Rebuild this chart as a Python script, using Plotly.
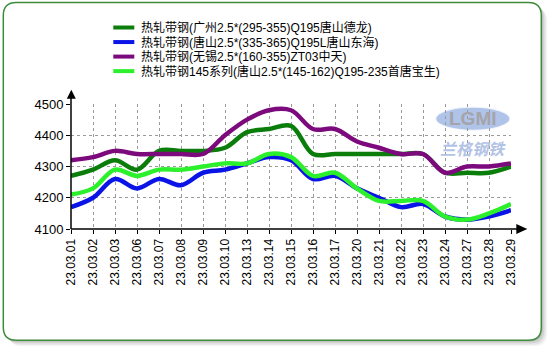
import plotly.graph_objects as go

# Trade dates (category axis)
dates = ["23.03.01", "23.03.02", "23.03.03", "23.03.06", "23.03.07", "23.03.08",
         "23.03.09", "23.03.10", "23.03.13", "23.03.14", "23.03.15", "23.03.16",
         "23.03.17", "23.03.20", "23.03.21", "23.03.22", "23.03.23", "23.03.24",
         "23.03.27", "23.03.28", "23.03.29"]

# Hot-rolled strip prices (yuan/ton)
guangzhou = [4270, 4290, 4320, 4290, 4350, 4350, 4350, 4360, 4410, 4420, 4430,
             4340, 4340, 4340, 4340, 4340, 4340, 4280, 4280, 4280, 4300]
tangshan_donghai = [4170, 4200, 4260, 4230, 4260, 4240, 4280, 4290, 4310, 4330, 4320,
                    4260, 4270, 4230, 4200, 4170, 4180, 4140, 4130, 4140, 4160]
wuxi = [4320, 4330, 4350, 4340, 4340, 4340, 4340, 4400, 4450, 4480, 4480,
        4420, 4420, 4380, 4360, 4340, 4340, 4280, 4300, 4300, 4310]
tangshan_145 = [4210, 4230, 4290, 4270, 4290, 4290, 4300, 4310, 4310, 4340, 4330,
                4270, 4280, 4230, 4190, 4190, 4190, 4140, 4130, 4150, 4180]

names = ["热轧带钢(广州2.5*(295-355)Q195唐山德龙)",
         "热轧带钢(唐山2.5*(335-365)Q195L唐山东海)",
         "热轧带钢(无锡2.5*(160-355)ZT03中天)",
         "热轧带钢145系列(唐山2.5*(145-162)Q195-235首唐宝生)"]
colors = ["#0b7d0b", "#0a14e6", "#7d0a7d", "#2cf02c"]
series = [guangzhou, tangshan_donghai, wuxi, tangshan_145]

W, H = 550, 350
L, R, T, B = 70.7, 510.7, 104.3, 229.0   # plot area in pixels

def px(x):
    return (x - L) / (R - L)

def py(y):
    return (B - y) / (B - T)

fig = go.Figure()
for name, vals, col in zip(names, series, colors):
    fig.add_trace(go.Scatter(
        x=list(range(len(dates))), y=vals, name=name, mode="lines",
        line=dict(color=col, width=4.5, shape="spline", smoothing=1.0),
    ))

shapes = []
annotations = []

# rounded frame with soft shadow
def rrect(x0, y0, x1, y1, r):
    return (f"M{px(x0+r)},{py(y0)} L{px(x1-r)},{py(y0)} Q{px(x1)},{py(y0)} {px(x1)},{py(y0+r)} "
            f"L{px(x1)},{py(y1-r)} Q{px(x1)},{py(y1)} {px(x1-r)},{py(y1)} "
            f"L{px(x0+r)},{py(y1)} Q{px(x0)},{py(y1)} {px(x0)},{py(y1-r)} "
            f"L{px(x0)},{py(y0+r)} Q{px(x0)},{py(y0)} {px(x0+r)},{py(y0)} Z")

for off, op in [(6, 0.06), (4.5, 0.09), (3, 0.12), (1.5, 0.15)]:
    shapes.append(dict(type="path", xref="paper", yref="paper", layer="below",
                       path=rrect(3 + off, 3 + off, 541 + off, 340 + off, 13),
                       fillcolor=f"rgba(80,80,80,{op})", line=dict(width=0)))
shapes.append(dict(type="path", xref="paper", yref="paper", layer="below",
                   path=rrect(3, 3, 541, 340, 13), fillcolor="white",
                   line=dict(color="#3c8c3c", width=1.5)))

# watermark: ellipse badge with lettering
shapes.append(dict(type="circle", xref="paper", yref="paper", layer="below",
                   x0=px(435), x1=px(510), y0=py(107), y1=py(131),
                   fillcolor="rgba(150,175,225,0.75)",
                   line=dict(color="rgba(255,255,255,0.8)", width=2)))
annotations.append(dict(x=px(472.5), y=py(119), xref="paper", yref="paper",
                        xanchor="center", yanchor="middle", text="<b>LGMI</b>",
                        showarrow=False,
                        font=dict(family="Liberation Sans", size=19, color="#a4a4aa")))
annotations.append(dict(x=px(473), y=py(148), xref="paper", yref="paper",
                        xanchor="center", yanchor="middle", text="<b><i>兰格钢铁</i></b>",
                        showarrow=False,
                        font=dict(family="Noto Sans CJK SC", size=16, color="#b3c3e6")))

# axis arrows
shapes.append(dict(type="line", xref="paper", yref="paper", x0=0, x1=0, y0=0, y1=py(93),
                   line=dict(color="black", width=1.5)))
shapes.append(dict(type="path", xref="paper", yref="paper",
                   path=f"M{px(71)},{py(90)} L{px(75.5)},{py(99)} L{px(66.5)},{py(99)} Z",
                   fillcolor="black", line=dict(width=0)))
shapes.append(dict(type="line", xref="paper", yref="paper", x0=0, x1=px(524), y0=0, y1=0,
                   line=dict(color="black", width=1.5)))
shapes.append(dict(type="path", xref="paper", yref="paper",
                   path=f"M{px(527)},{py(229)} L{px(516)},{py(224)} L{px(516)},{py(234)} Z",
                   fillcolor="black", line=dict(width=0)))

# compact legend: short line sample + label per series
legend_rows = [28, 42.5, 57, 71.5]
for name, col, ry in zip(names, colors, legend_rows):
    shapes.append(dict(type="line", xref="paper", yref="paper",
                       x0=px(113), x1=px(134), y0=py(ry), y1=py(ry),
                       line=dict(color=col, width=4)))
    annotations.append(dict(x=px(139), y=py(ry), xref="paper", yref="paper",
                            xanchor="left", yanchor="middle", text=name, showarrow=False,
                            font=dict(size=12, family="Liberation Sans, Noto Sans CJK SC")))

fig.update_layout(
    width=W, height=H,
    margin=dict(l=L, r=W - R, t=T, b=H - B, pad=0),
    paper_bgcolor="white", plot_bgcolor="rgba(0,0,0,0)",
    font=dict(family="Liberation Sans, Noto Sans CJK SC", size=12, color="black"),
    showlegend=False,
    shapes=shapes, annotations=annotations,
    xaxis=dict(range=[0, len(dates) - 1], tickmode="array",
               tickvals=list(range(len(dates))), ticktext=dates, tickangle=-90,
               showgrid=True, gridcolor="#9a9a9a", griddash="dot", gridwidth=1,
               showline=False, zeroline=False, ticks="outside", ticklen=4,
               tickcolor="black", tickfont=dict(size=12, family="Liberation Sans")),
    yaxis=dict(range=[4100, 4500], tickvals=[4100, 4200, 4300, 4400, 4500],
               showgrid=True, gridcolor="#9a9a9a", griddash="dot", gridwidth=1,
               showline=False, zeroline=False, ticks="outside", ticklen=4,
               tickcolor="black", tickfont=dict(size=13, family="Liberation Sans")),
)

fig.write_html("out.html")
